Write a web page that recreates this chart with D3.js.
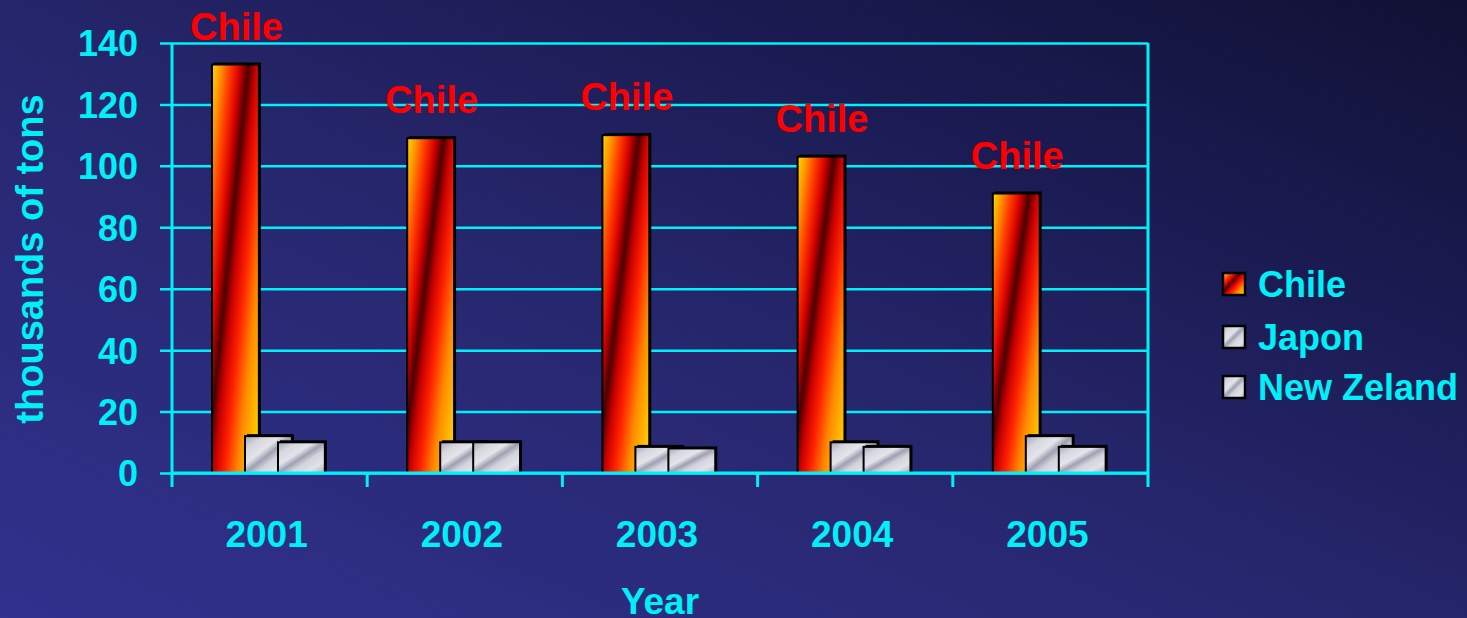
<!DOCTYPE html>
<html>
<head>
<meta charset="utf-8">
<script src="https://cdn.jsdelivr.net/npm/d3@7"></script>
<style>
  html, body { margin: 0; padding: 0; overflow: hidden; }
  body { width: 1467px; height: 618px; }
  text { font-family: 'Liberation Sans', Arial, sans-serif; font-weight: bold; }
</style>
</head>
<body>
<div id="wrapper"></div>
<script>
/* DATA */
const years = ['2001', '2002', '2003', '2004', '2005'];
const seriesNames = ['Chile', 'Japon', 'New Zeland'];
const chileValues = [133, 109, 110, 103, 91];
const japonValues = [12, 10, 8.5, 10, 12];
const newZelandValues = [10, 10, 8, 8.5, 8.5];
const yTicks = [0, 20, 40, 60, 80, 100, 120, 140];

function drawChart() {
  /* CHART DIMENSIONS */
  const dimensions = {
    width: 1467,
    height: 618,
    margin: { top: 43, right: 319, bottom: 145, left: 172 },
  };
  dimensions.boundedWidth =
    dimensions.width - (dimensions.margin.left + dimensions.margin.right);
  dimensions.boundedHeight =
    dimensions.height - (dimensions.margin.top + dimensions.margin.bottom);

  const cyan = '#00f0f8';
  const valuesBySeries = [chileValues, japonValues, newZelandValues];
  const rows = [];
  years.forEach((year, i) => {
    seriesNames.forEach((name, s) => {
      rows.push({ year, series: name, s, value: valuesBySeries[s][i] });
    });
  });

  /* SCALES */
  const xScale = d3
    .scaleBand()
    .domain(years)
    .range([0, dimensions.boundedWidth]);

  const barWidth = xScale.bandwidth() * 0.24;
  const seriesScale = d3
    .scalePoint()
    .domain(seriesNames)
    .range([xScale.bandwidth() * 0.325, xScale.bandwidth() * 0.663]);

  const yScale = d3
    .scaleLinear()
    .domain([0, 140])
    .range([dimensions.boundedHeight, 0]);

  /* WRAPPER */
  const wrapper = d3
    .select('#wrapper')
    .append('svg')
    .attr('width', dimensions.width)
    .attr('height', dimensions.height);

  const defs = wrapper.append('defs');

  const bg = defs.append('linearGradient')
    .attr('id', 'bg')
    .attr('x1', 0).attr('y1', 1).attr('x2', 1).attr('y2', 0);
  [[0, '#31318e'], [0.45, '#27276f'], [0.75, '#1a1a50'], [1, '#111134']]
    .forEach(([o, c]) => bg.append('stop').attr('offset', o).attr('stop-color', c));

  const fire = defs.append('linearGradient')
    .attr('id', 'fire')
    .attr('x1', 0).attr('y1', 0).attr('x2', 1).attr('y2', 0.9);
  [[0, '#ffd800'], [0.1, '#ff9a00'], [0.22, '#ff3a00'], [0.33, '#d80000'],
   [0.43, '#4a0000'], [0.52, '#c80000'], [0.64, '#ff2000'], [0.8, '#ff8a00'], [1, '#ffd000']]
    .forEach(([o, c]) => fire.append('stop').attr('offset', o).attr('stop-color', c));

  const silver = defs.append('linearGradient')
    .attr('id', 'silver')
    .attr('x1', 0).attr('y1', 0).attr('x2', 1).attr('y2', 1);
  [[0, '#a4a6b6'], [0.2, '#d6d7df'], [0.38, '#e4e4ea'], [0.5, '#9ea1b2'],
   [0.62, '#d2d3dc'], [0.8, '#e2e2e8'], [1, '#a9abba']]
    .forEach(([o, c]) => silver.append('stop').attr('offset', o).attr('stop-color', c));

  const fills = { 'Chile': 'url(#fire)', 'Japon': 'url(#silver)', 'New Zeland': 'url(#silver)' };

  wrapper.append('rect')
    .attr('width', dimensions.width)
    .attr('height', dimensions.height)
    .attr('fill', 'url(#bg)');

  const bounds = wrapper
    .append('g')
    .attr('transform', `translate(${dimensions.margin.left},${dimensions.margin.top})`);

  /* GRID + Y AXIS */
  const yAxisGenerator = d3.axisLeft(yScale)
    .tickValues(yTicks)
    .tickSizeInner(12)
    .tickSizeOuter(0)
    .tickPadding(22);
  const yAxis = bounds.append('g').call(yAxisGenerator);
  yAxis.select('.domain').remove();
  yAxis.selectAll('.tick line')
    .attr('x1', -12)
    .attr('x2', dimensions.boundedWidth)
    .attr('stroke', cyan)
    .attr('stroke-width', 2.5);
  yAxis.selectAll('.tick text')
    .attr('fill', cyan)
    .attr('dy', '0.36em')
    .style('font-size', '36px');

  // left and right frame lines, with category boundary ticks below
  const boundaries = years.map(y => xScale(y)).concat([dimensions.boundedWidth]);
  bounds.append('g')
    .selectAll('line')
    .data(boundaries)
    .join('line')
    .attr('x1', d => d)
    .attr('x2', d => d)
    .attr('y1', (d, i) => (i === 0 || i === boundaries.length - 1) ? 0 : dimensions.boundedHeight)
    .attr('y2', dimensions.boundedHeight + 14)
    .attr('stroke', cyan)
    .attr('stroke-width', 3);

  /* BARS */
  const barGroups = bounds.append('g')
    .selectAll('g')
    .data(rows.sort((a, b) => a.s - b.s))
    .join('g');

  // dark depth edge on the top and right
  barGroups.append('rect')
    .attr('x', d => xScale(d.year) + seriesScale(d.series) - barWidth / 2 + 2)
    .attr('y', d => yScale(d.value) - 2)
    .attr('width', barWidth)
    .attr('height', d => dimensions.boundedHeight - yScale(d.value) + 2)
    .attr('fill', '#000');

  barGroups.append('rect')
    .attr('x', d => xScale(d.year) + seriesScale(d.series) - barWidth / 2)
    .attr('y', d => yScale(d.value))
    .attr('width', barWidth)
    .attr('height', d => dimensions.boundedHeight - yScale(d.value))
    .attr('fill', d => fills[d.series])
    .attr('stroke', '#000')
    .attr('stroke-width', 2);

  // baseline on top of bars
  bounds.append('line')
    .attr('x1', 0)
    .attr('x2', dimensions.boundedWidth)
    .attr('y1', yScale(0))
    .attr('y2', yScale(0))
    .attr('stroke', cyan)
    .attr('stroke-width', 3);

  /* CHILE LABELS */
  bounds.append('g')
    .selectAll('text')
    .data(rows.filter(d => d.series === 'Chile'))
    .join('text')
    .attr('x', d => xScale(d.year) + seriesScale(d.series) + 1)
    .attr('y', d => yScale(d.value) - 25)
    .attr('text-anchor', 'middle')
    .attr('fill', '#ff0000')
    .style('font-size', '38px')
    .text('Chile');

  /* X AXIS */
  const xAxisGenerator = d3.axisBottom(xScale).tickSize(0).tickPadding(0);
  const xAxis = bounds.append('g')
    .attr('transform', `translate(0,${dimensions.boundedHeight})`)
    .call(xAxisGenerator);
  xAxis.select('.domain').remove();
  xAxis.selectAll('.tick text')
    .attr('fill', cyan)
    .attr('x', -3)
    .attr('y', 74)
    .attr('dy', 0)
    .style('font-size', '37px');

  bounds.append('text')
    .attr('x', dimensions.boundedWidth / 2)
    .attr('y', dimensions.boundedHeight + 141)
    .attr('text-anchor', 'middle')
    .attr('fill', cyan)
    .style('font-size', '37px')
    .text('Year');

  wrapper.append('text')
    .attr('transform', `translate(43,${dimensions.margin.top + dimensions.boundedHeight / 2 + 1}) rotate(-90)`)
    .attr('text-anchor', 'middle')
    .attr('fill', cyan)
    .style('font-size', '38px')
    .text('thousands of tons');

  /* LEGEND */
  const legend = wrapper.append('g')
    .selectAll('g')
    .data(seriesNames)
    .join('g')
    .attr('transform', (d, i) => `translate(1223,${[284, 337, 387][i]})`);

  legend.append('rect')
    .attr('x', 0)
    .attr('y', -11)
    .attr('width', 22)
    .attr('height', 22)
    .attr('fill', d => d === 'Chile' ? 'url(#fire)' : 'url(#silver)')
    .attr('stroke', '#000')
    .attr('stroke-width', 2.5);

  legend.append('text')
    .attr('x', 35)
    .attr('y', 13)
    .attr('fill', cyan)
    .style('font-size', '36px')
    .text(d => d);
}

drawChart();
</script>
</body>
</html>
